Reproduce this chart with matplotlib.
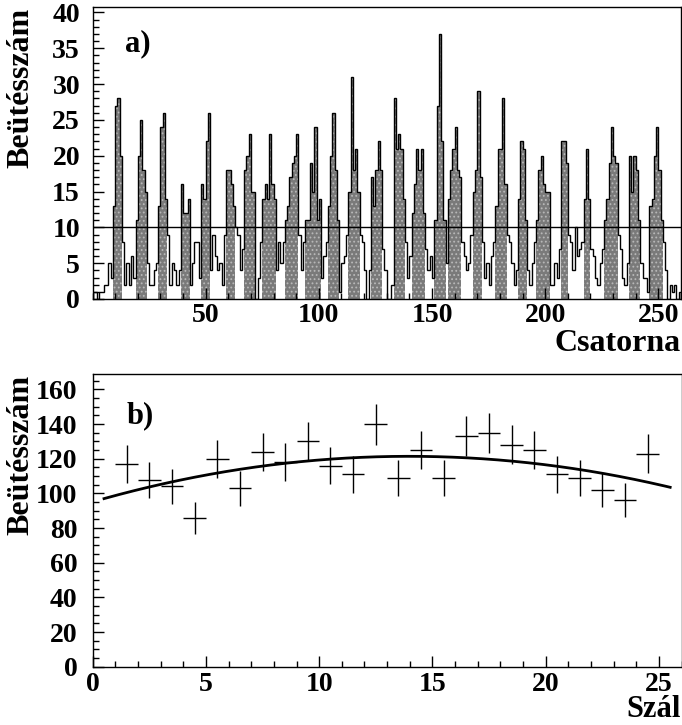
import numpy as np
import matplotlib
matplotlib.use("Agg")
import matplotlib.pyplot as plt
from matplotlib.ticker import MultipleLocator

plt.rcParams['font.family'] = ['Liberation Serif', 'DejaVu Serif']
plt.rcParams['font.weight'] = 'bold'
plt.rcParams['hatch.linewidth'] = 0.8

# ---- panel a): channel spectrum -------------------------------------------
counts = [
    1, 1, 0, 1, 1, 2, 2, 5, 3,
    13, 27, 28, 20,
    8, 2, 5, 2, 6, 3,
    11, 20, 25, 18, 15,
    5, 2, 2, 4, 5,
    13, 24, 26, 14,
    9, 2, 5, 4, 2, 4,
    16, 12, 12, 14,
    2, 5, 8, 8, 3,
    16, 14, 22, 26,
    4, 9, 6, 4, 5, 2, 9,
    18, 18, 16, 13,
    10, 9, 4, 7,
    18, 20, 23, 15, 15,
    0, 3, 8,
    14, 16, 14, 23, 16, 14,
    4, 8, 5, 8,
    11, 13, 17, 19, 20, 23,
    9, 4, 8,
    11, 11, 19, 15, 24, 11, 14,
    3, 6, 8,
    13, 20, 26, 18, 11,
    1, 5, 6, 9,
    15, 31, 18, 21, 15,
    9, 8, 4, 0, 4,
    17, 13, 18, 22, 18,
    7, 4, 0, 0, 2,
    28, 21, 23, 21, 14,
    8, 3, 6,
    12, 16, 21, 18, 21, 12,
    7, 4, 6, 3,
    11, 27, 37, 22, 11,
    5,
    14, 18, 21, 24, 18, 17,
    8, 6, 4, 5, 9,
    15, 18, 29, 17,
    8, 3, 5, 2, 6, 8,
    13, 21, 21, 28, 16,
    9, 8, 5, 2, 4,
    14, 22, 21, 11,
    4, 2, 5, 8,
    11, 18, 20, 16, 15, 15,
    2, 2, 5, 3, 7,
    22, 22, 19,
    9, 8, 4, 10, 6, 7, 8,
    14, 21, 14,
    7, 6, 3, 2, 5, 7,
    11, 14, 19, 24, 20, 19,
    9, 7, 3, 2, 5,
    20, 15, 20, 18, 11,
    5, 3, 3, 1,
    13, 14, 20, 24, 18, 11,
    8, 4, 0, 2, 1, 2, 0, 1,
]
threshold = 10
channel_ticks = [50, 100, 150, 200, 250]
count_ticks = [0, 5, 10, 15, 20, 25, 30, 35, 40]

# ---- panel b): counts per fibre with quadratic fit -------------------------
fibre = [1.5, 2.5, 3.5, 4.5, 5.5, 6.5, 7.5, 8.5, 9.5, 10.5, 11.5, 12.5,
         13.5, 14.5, 15.5, 16.5, 17.5, 18.5, 19.5, 20.5, 21.5, 22.5, 23.5, 24.5]
fibre_counts = [117, 108, 104, 86, 120, 103, 124, 118, 130, 116, 111, 140,
                109, 125, 109, 133, 135, 128, 125, 111, 109, 102, 96, 123]
fit_p0, fit_p1, fit_p2 = 95.15, 3.758, -0.1345
fibre_ticks = [0, 5, 10, 15, 20, 25]
fibre_count_ticks = [0, 20, 40, 60, 80, 100, 120, 140, 160]

W, H = 682, 725
fig = plt.figure(figsize=(W / 100, H / 100), dpi=100)

def frac_box(x0, y0, x1, y1):
    return [x0 / W, 1 - y1 / H, (x1 - x0) / W, (y1 - y0) / H]

tick_fs = 20
title_fs = 23

# ---------------- top panel ----------------
ax1 = fig.add_axes(frac_box(92.5, 6.7, 681.0, 299.0))
c = np.asarray(counts, dtype=float)
edges = np.arange(len(c) + 1)
above = np.where(c > threshold, c, 0.0)
ax1.stairs(above, edges, fill=True, facecolor='#7a7a7a', edgecolor='none', lw=0)
ax1.stairs(above, edges, fill=True, facecolor='none', edgecolor='#b8b8b8',
           hatch='....', lw=0)
ax1.stairs(c, edges, color='black', lw=1.0)
ax1.axhline(threshold, color='black', lw=1.0)
ax1.set_xlim(0, 260)
ax1.set_ylim(0, 40.8)
ax1.set_xticks(channel_ticks)
ax1.set_yticks(count_ticks)
ax1.xaxis.set_minor_locator(MultipleLocator(10))
ax1.yaxis.set_minor_locator(MultipleLocator(1))
ax1.tick_params(axis='both', which='both', direction='in', top=False, right=False,
                labelsize=tick_fs, width=1.0)
ax1.tick_params(axis='both', which='major', length=8)
ax1.tick_params(axis='both', which='minor', length=4)
ax1.tick_params(axis='y', which='major', pad=9)
ax1.tick_params(axis='x', which='major', pad=3)
ax1.text(0.055, 0.875, 'a)', transform=ax1.transAxes, fontsize=22,
         fontweight='bold', ha='left', va='center')
fig.text(21 / W, 1 - 8 / H, 'Beütésszám', rotation=90, ha='center', va='top',
         fontsize=title_fs, fontweight='bold')
fig.text(681 / W, 1 - 351 / H, 'Csatorna', ha='right', va='baseline',
         fontsize=23, fontweight='bold')

# ---------------- bottom panel ----------------
ax2 = fig.add_axes(frac_box(92.7, 374.0, 681.5, 666.7))
fx = np.asarray(fibre, dtype=float)
fy = np.asarray(fibre_counts, dtype=float)
ax2.errorbar(fx, fy, yerr=np.sqrt(fy), xerr=0.5, fmt='none', ecolor='black',
             elinewidth=1.0, capsize=0)
xs = np.linspace(0.5, 25.5, 300)
ax2.plot(xs, fit_p0 + fit_p1 * xs + fit_p2 * xs ** 2, color='black', lw=2.0)
ax2.set_xlim(0, 26)
ax2.set_ylim(0, 168.9)
ax2.set_xticks(fibre_ticks)
ax2.set_yticks(fibre_count_ticks)
ax2.xaxis.set_minor_locator(MultipleLocator(1))
ax2.yaxis.set_minor_locator(MultipleLocator(5))
ax2.tick_params(axis='both', which='both', direction='in', top=False, right=False,
                labelsize=tick_fs, width=1.0)
ax2.tick_params(axis='both', which='major', length=8)
ax2.tick_params(axis='both', which='minor', length=4)
ax2.tick_params(axis='y', which='major', pad=11)
ax2.tick_params(axis='x', which='major', pad=4)
ax2.text(0.057, 0.857, 'b)', transform=ax2.transAxes, fontsize=22,
         fontweight='bold', ha='left', va='center')
fig.text(21 / W, 1 - 375 / H, 'Beütésszám', rotation=90, ha='center', va='top',
         fontsize=title_fs, fontweight='bold')
fig.text(681 / W, 1 - 717 / H, 'Szál', ha='right', va='baseline',
         fontsize=22, fontweight='bold')

for ax in (ax1, ax2):
    for s in ax.spines.values():
        s.set_linewidth(1.0)

fig.savefig('out.png', dpi=100)
